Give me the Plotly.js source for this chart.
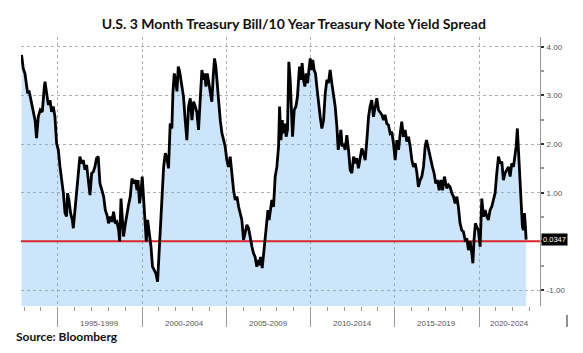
<!DOCTYPE html>
<html>
<head>
<meta charset="utf-8">
<script src="https://cdn.plot.ly/plotly-3.0.1.min.js"></script>
<style>html,body{margin:0;padding:0;background:#fff;}#chart{width:583px;height:353px;}</style>
</head>
<body>
<div id="chart"></div>
<script>
// Decimal years
const years = [
1992.85,1992.95,1993.05,1993.15,1993.21,1993.29,1993.41,1993.55,1993.65,1993.74,1993.84,1993.96,
1994.08,1994.20,1994.24,1994.34,1994.44,1994.54,1994.63,1994.73,1994.83,1994.93,
1995.03,1995.13,1995.23,1995.33,1995.43,1995.52,1995.58,1995.66,1995.76,1995.86,1995.92,
1996.02,1996.12,1996.22,1996.31,1996.41,1996.51,1996.61,1996.71,1996.81,1996.91,
1997.01,1997.11,1997.20,1997.30,1997.40,1997.50,1997.62,1997.72,1997.82,1997.92,
1998.01,1998.11,1998.21,1998.31,1998.41,1998.51,1998.61,1998.67,1998.75,1998.83,1998.90,
1999.00,1999.10,1999.20,1999.30,1999.40,1999.50,1999.60,1999.70,1999.76,1999.85,1999.93,
2000.01,2000.09,2000.19,2000.25,2000.33,2000.43,2000.53,2000.62,2000.72,2000.82,2000.92,
2001.00,2001.08,2001.18,2001.28,2001.38,2001.47,2001.57,2001.67,2001.77,2001.83,2001.91,2001.99,
2002.07,2002.15,2002.23,2002.30,2002.38,2002.46,2002.56,2002.66,2002.76,2002.86,2002.96,
2003.06,2003.16,2003.25,2003.35,2003.45,2003.55,2003.65,2003.71,2003.79,2003.87,2003.95,
2004.04,2004.14,2004.22,2004.30,2004.38,2004.46,2004.54,2004.64,2004.74,2004.84,2004.93,
2005.03,2005.13,2005.23,2005.33,2005.43,2005.53,2005.63,2005.73,2005.82,2005.92,
2006.02,2006.12,2006.22,2006.32,2006.42,2006.52,2006.62,2006.71,2006.81,2006.87,2006.95,
2007.03,2007.13,2007.21,2007.31,2007.39,2007.47,2007.54,2007.70,2007.80,2007.90,
2008.00,2008.10,2008.16,2008.24,2008.32,2008.39,2008.47,2008.55,2008.63,2008.71,2008.79,2008.87,2008.93,
2009.03,2009.13,2009.22,2009.34,2009.42,2009.50,2009.58,2009.66,2009.74,2009.82,2009.90,2009.98,
2010.06,2010.13,2010.21,2010.29,2010.37,2010.47,2010.57,2010.67,2010.77,2010.87,2010.97,
2011.06,2011.16,2011.26,2011.36,2011.46,2011.56,2011.64,2011.72,2011.80,2011.87,2011.95,
2012.05,2012.15,2012.25,2012.35,2012.45,2012.55,2012.65,2012.74,2012.84,2012.94,
2013.04,2013.14,2013.24,2013.34,2013.44,2013.53,2013.63,2013.73,2013.83,2013.93,
2014.03,2014.13,2014.23,2014.33,2014.42,2014.52,2014.62,2014.72,2014.82,2014.92,
2015.02,2015.12,2015.22,2015.32,2015.41,2015.51,2015.61,2015.71,2015.81,2015.91,
2016.01,2016.11,2016.21,2016.30,2016.40,2016.50,2016.60,2016.70,2016.80,2016.88,2016.96,
2017.03,2017.13,2017.23,2017.33,2017.43,2017.53,2017.63,2017.73,2017.83,2017.94,
2018.08,2018.18,2018.28,2018.38,2018.48,2018.58,2018.68,2018.77,2018.87,2018.97,
2019.07,2019.17,2019.27,2019.37,2019.47,2019.57,2019.63,2019.70,2019.78,2019.86,2019.96,
2020.06,2020.16,2020.26,2020.36,2020.46,2020.55,2020.65,2020.75,2020.85,2020.95,
2021.05,2021.15,2021.25,2021.35,2021.44,2021.54,2021.64,2021.74,2021.84,2021.94,
2022.04,2022.12,2022.20,2022.27,2022.35,2022.43,2022.51,2022.57,2022.63,2022.69,2022.75,2022.79
];
// 10Y minus 3M yield spread, percentage points
const spread = [
3.83,3.55,3.45,3.18,3.04,3.10,2.90,2.63,2.49,2.12,2.56,2.70,
2.66,3.18,3.28,3.04,2.80,2.90,2.66,2.77,2.56,2.01,
1.88,1.53,1.26,0.99,0.58,0.51,0.99,0.85,0.58,0.44,0.27,
0.64,0.92,1.40,1.74,1.60,1.67,1.47,1.57,1.26,0.95,
1.40,1.43,1.53,1.71,1.74,1.19,1.05,0.92,0.64,0.54,
0.37,0.51,0.40,0.61,0.37,0.40,0.23,0.00,0.88,0.30,0.10,
0.34,0.58,0.75,0.92,1.29,1.19,1.26,1.05,1.26,0.78,0.99,
1.33,0.92,0.30,0.00,0.44,0.16,-0.11,-0.52,-0.59,-0.66,-0.83,
-0.25,0.16,0.85,1.53,1.81,1.71,1.50,2.42,2.32,3.04,3.45,3.32,
3.08,3.59,3.49,3.32,3.11,2.97,2.49,2.08,2.77,2.94,2.49,
2.87,2.77,2.66,2.29,2.90,3.52,3.32,3.45,3.18,3.45,3.28,
3.11,2.87,3.38,3.76,3.59,3.18,2.90,2.49,2.22,2.08,1.95,
1.67,1.53,1.74,1.33,1.05,0.85,0.92,0.71,0.58,0.44,
0.03,0.16,0.34,0.27,0.03,-0.11,-0.25,-0.32,-0.52,-0.38,-0.49,
-0.32,-0.55,-0.25,-0.04,0.30,0.64,0.44,0.85,0.71,1.33,
1.53,1.95,2.77,2.08,2.49,2.22,2.42,2.15,2.29,3.69,3.32,2.49,2.15,
2.70,2.77,2.97,3.59,3.32,3.66,3.32,3.18,3.45,3.25,3.52,3.76,
3.52,3.73,3.52,3.45,3.18,2.84,2.56,2.32,2.49,3.04,3.32,
3.25,3.52,3.25,3.04,2.77,2.36,1.88,2.08,2.29,1.95,2.01,
1.88,2.18,1.88,1.47,1.40,1.74,1.60,1.71,1.50,1.67,
1.91,1.81,1.67,2.08,2.56,2.77,2.90,2.56,2.77,2.94,
2.70,2.66,2.60,2.49,2.60,2.42,2.39,2.22,2.25,2.01,
1.67,2.08,1.88,2.22,2.46,2.15,2.29,2.05,2.15,1.95,
1.67,1.53,1.60,1.43,1.12,1.26,1.33,1.53,1.95,2.08,1.95,
1.81,1.67,1.53,1.40,1.19,1.26,1.05,1.26,1.05,1.33,
1.09,1.16,1.12,0.99,0.92,0.78,0.92,0.71,0.37,0.23,
0.20,0.03,0.06,-0.18,0.00,-0.25,-0.45,0.03,0.37,0.30,0.23,
-0.11,0.88,0.51,0.64,0.51,0.44,0.64,0.71,0.85,0.99,
1.40,1.74,1.60,1.64,1.26,1.40,1.47,1.53,1.33,1.60,
1.53,1.74,1.95,2.32,1.81,1.40,0.85,0.30,0.23,0.58,0.30,0.0347
];
const periodStarts = [1995, 2000, 2005, 2010, 2015, 2020];
const periodLabels = ['1995-1999', '2000-2004', '2005-2009', '2010-2014', '2015-2019', '2020-2024'];
const yTickVals = [-1, 0, 1, 2, 3, 4];
const yTickText = ['-1.00', '', '1.00', '2.00', '3.00', '4.00'];
const referenceLevel = 0;

const xRange = [1992.816, 2023.614];
const yRange = [-1.328, 4.199];
const labelFont = {family: 'Liberation Sans, Arial, sans-serif', size: 8, color: '#555'};

const baseline = {
  x: years, y: years.map(() => yRange[0]),
  mode: 'lines', line: {width: 0, color: 'rgba(0,0,0,0)'},
  hoverinfo: 'skip', showlegend: false
};
const area = {
  x: years, y: spread, mode: 'lines',
  fill: 'tonexty', fillcolor: 'rgba(100,175,240,0.32)',
  line: {width: 0, color: 'rgba(0,0,0,0)'},
  hoverinfo: 'skip', showlegend: false
};
const refLine = {
  x: xRange, y: xRange.map(() => referenceLevel), mode: 'lines',
  line: {color: '#d9262a', width: 2},
  hoverinfo: 'skip', showlegend: false
};
const main = {
  x: years, y: spread, mode: 'lines',
  line: {color: '#000', width: 2.8},
  showlegend: false
};

const annotations = periodStarts.map((s, i) => {
  const a = Math.max(s, xRange[0]);
  const b = Math.min(s + 5, xRange[1]);
  return {
    x: (a + b) / 2, xref: 'x', y: 0, yref: 'paper', yshift: -17,
    xanchor: 'center', yanchor: 'middle', showarrow: false,
    text: periodLabels[i], font: labelFont
  };
});
const last = spread[spread.length - 1];
annotations.push({
  x: 1, xref: 'paper', xanchor: 'left', xshift: 1,
  y: last, yref: 'y', yanchor: 'middle',
  showarrow: false, text: last.toFixed(4),
  bgcolor: '#000', borderpad: 1,
  font: {family: 'Liberation Sans, Arial, sans-serif', size: 7.5, color: '#fff'}
});
annotations.push({
  x: -0.0135, xref: 'paper', xanchor: 'left',
  y: -0.115, yref: 'paper', yanchor: 'middle',
  showarrow: false, text: 'Source: Bloomberg',
  font: {family: 'Lato, sans-serif', size: 12, color: '#111', weight: 'bold'}
});

const layout = {
  width: 583, height: 353,
  margin: {l: 21, r: 43, t: 37, b: 47},
  paper_bgcolor: '#fff', plot_bgcolor: '#fff',
  title: {
    text: 'U.S. 3 Month Treasury Bill/10 Year Treasury Note Yield Spread',
    font: {family: 'Lato, sans-serif', size: 14, color: '#111', weight: 'bold'},
    x: 0.504, xref: 'container', xanchor: 'center',
    y: 0.932, yref: 'container', yanchor: 'middle'
  },
  xaxis: {
    range: xRange, tickmode: 'linear', tick0: 1995, dtick: 5,
    ticks: 'outside', ticklen: 20, tickwidth: 1, tickcolor: '#999',
    showticklabels: false, showgrid: true, gridcolor: '#b0b0b0', griddash: 'dot', gridwidth: 1,
    zeroline: false, showline: false, layer: 'above traces',
    minor: {tick0: 1995, dtick: 1, ticks: 'outside', ticklen: 4, tickcolor: '#999', showgrid: false}
  },
  yaxis: {
    range: yRange, side: 'right', tickmode: 'array', tickvals: yTickVals, ticktext: yTickText,
    ticks: 'outside', ticklen: 3, tickwidth: 2, tickcolor: '#333',
    tickfont: labelFont, ticklabelstandoff: 1,
    showline: true, linecolor: '#999', linewidth: 1,
    showgrid: true, gridcolor: '#b0b0b0', griddash: 'dot', gridwidth: 1,
    zeroline: false,
    layer: 'above traces',
    minor: {dtick: 0.5, ticks: 'outside', ticklen: 3, tickcolor: '#999', showgrid: false}
  },
  shapes: [{
    type: 'line', xref: 'paper', yref: 'paper',
    x0: 1.052, x1: 1.052, y0: -0.033, y1: -0.078,
    line: {color: '#222', width: 1}
  }],
  annotations: annotations
};

Plotly.newPlot('chart', [baseline, area, refLine, main], layout, {displayModeBar: false, staticPlot: true});
</script>
</body>
</html>
